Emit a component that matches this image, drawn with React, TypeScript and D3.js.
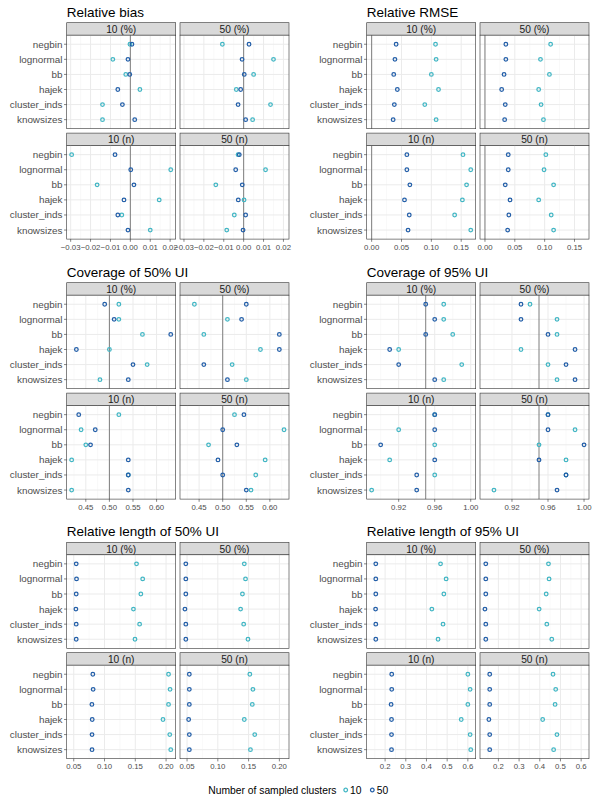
import * as d3 from "d3";

// categories
const methods = ["negbin", "lognormal", "bb", "hajek", "cluster_inds", "knowsizes"];
const facets = ["10 (%)", "50 (%)", "10 (n)", "50 (n)"];
const clusterLevels = ["10", "50"];
const clusterColors = ["#41b6c4", "#225ea8"];

// each array: one row per facet (10 (%), 50 (%), 10 (n), 50 (n)), values in methods order
const biasC10 = [
  [-0.0002, -0.0088, -0.0023, 0.0048, -0.014, -0.014],
  [-0.0107, 0.015, 0.005, -0.0037, 0.0135, 0.0045],
  [-0.0295, 0.0203, -0.0167, 0.0145, -0.0043, 0.01],
  [-0.0028, 0.011, -0.014, 0.0002, -0.0047, -0.0085],
];
const biasC50 = [
  [0.0008, -0.0012, -0.0003, -0.0063, -0.004, 0.0022],
  [0.0027, -0.0008, 0.0003, -0.0015, -0.0028, 0.001],
  [-0.0077, 0.0002, 0.0018, -0.0032, -0.0063, -0.0012],
  [-0.0022, -0.004, -0.0007, -0.0027, 0.001, -0.0003],
];
const rmseC10 = [
  [0.107, 0.108, 0.1, 0.112, 0.089, 0.108],
  [0.11, 0.093, 0.108, 0.09, 0.094, 0.098],
  [0.153, 0.166, 0.159, 0.152, 0.139, 0.166],
  [0.102, 0.099, 0.115, 0.09, 0.111, 0.115],
];
const rmseC50 = [
  [0.041, 0.039, 0.037, 0.043, 0.038, 0.036],
  [0.035, 0.035, 0.032, 0.028, 0.034, 0.033],
  [0.059, 0.059, 0.064, 0.055, 0.063, 0.061],
  [0.039, 0.039, 0.034, 0.042, 0.04, 0.038],
];
const cov50C10 = [
  [0.52, 0.52, 0.57, 0.5, 0.58, 0.48],
  [0.44, 0.51, 0.46, 0.58, 0.52, 0.55],
  [0.52, 0.44, 0.45, 0.42, 0.54, 0.42],
  [0.525, 0.63, 0.47, 0.59, 0.57, 0.56],
];
const cov50C50 = [
  [0.49, 0.51, 0.63, 0.43, 0.55, 0.54],
  [0.55, 0.54, 0.62, 0.62, 0.46, 0.51],
  [0.435, 0.47, 0.46, 0.54, 0.54, 0.54],
  [0.545, 0.5, 0.53, 0.49, 0.5, 0.55],
];
const cov95C10 = [
  [0.97, 0.97, 0.98, 0.92, 0.99, 0.97],
  [0.94, 0.97, 0.97, 0.93, 0.96, 0.97],
  [0.96, 0.92, 0.96, 0.91, 0.96, 0.89],
  [0.96, 0.99, 0.95, 0.98, 0.98, 0.9],
];
const cov95C50 = [
  [0.95, 0.96, 0.95, 0.91, 0.92, 0.96],
  [0.93, 0.93, 0.96, 0.99, 0.98, 0.99],
  [0.96, 0.96, 0.9, 0.96, 0.94, 0.94],
  [0.96, 0.96, 1.0, 0.95, 0.98, 0.97],
];
const len50C10 = [
  [0.152, 0.162, 0.159, 0.147, 0.157, 0.1495],
  [0.143, 0.145, 0.14, 0.137, 0.142, 0.149],
  [0.204, 0.2065, 0.204, 0.195, 0.206, 0.2076],
  [0.152, 0.157, 0.156, 0.143, 0.16, 0.153],
];
const len50C50 = [
  [0.054, 0.0545, 0.054, 0.0535, 0.054, 0.054],
  [0.048, 0.048, 0.048, 0.0466, 0.048, 0.048],
  [0.081, 0.0815, 0.0795, 0.08, 0.0797, 0.0797],
  [0.0537, 0.0537, 0.0537, 0.0526, 0.0537, 0.0537],
];
const len95C10 = [
  [0.468, 0.495, 0.484, 0.426, 0.48, 0.456],
  [0.442, 0.445, 0.431, 0.397, 0.434, 0.458],
  [0.6, 0.611, 0.6, 0.568, 0.611, 0.614],
  [0.464, 0.477, 0.474, 0.414, 0.483, 0.467],
];
const len95C50 = [
  [0.155, 0.155, 0.155, 0.154, 0.155, 0.155],
  [0.139, 0.139, 0.139, 0.135, 0.139, 0.139],
  [0.232, 0.232, 0.229, 0.231, 0.231, 0.231],
  [0.158, 0.158, 0.158, 0.154, 0.158, 0.158],
];

// axis breaks
const biasTicks = [-0.03, -0.02, -0.01, 0, 0.01, 0.02];
const rmseTicks = [0, 0.05, 0.1, 0.15];
const cov50Ticks = [0.45, 0.5, 0.55, 0.6];
const cov95Ticks = [0.92, 0.96, 1.0];
const len50Ticks = [0.05, 0.1, 0.15, 0.2];
const len95Ticks = [0.2, 0.3, 0.4, 0.5, 0.6];

const metrics = [
  { title: "Relative bias", c10: biasC10, c50: biasC50, ticks: biasTicks, digits: 2, ref: 0 },
  { title: "Relative RMSE", c10: rmseC10, c50: rmseC50, ticks: rmseTicks, digits: 2, ref: 0 },
  { title: "Coverage of 50% UI", c10: cov50C10, c50: cov50C50, ticks: cov50Ticks, digits: 2, ref: 0.5 },
  { title: "Coverage of 95% UI", c10: cov95C10, c50: cov95C50, ticks: cov95Ticks, digits: 2, ref: 0.95 },
  { title: "Relative length of 50% UI", c10: len50C10, c50: len50C50, ticks: len50Ticks, digits: 2, ref: null },
  { title: "Relative length of 95% UI", c10: len95C10, c50: len95C50, ticks: len95Ticks, digits: 1, ref: null },
];

const FONT = "'Liberation Sans', Arial, Helvetica, sans-serif";
const colLeft = [66.7, 366.7];
const rowTop = [22.7, 282.7, 542.3];
const facetW = 109;
const gapX = 4.3;
const stripH = 12.5;
const panelH = 93.5;
const gapY = 4.4;

function Block({ m, left, top }) {
  const all = [...m.c10.flat(), ...m.c50.flat()];
  if (m.ref !== null) all.push(m.ref);
  const [lo, hi] = d3.extent(all);
  const pad = (hi - lo) * 0.05;
  const x = d3.scaleLinear().domain([lo - pad, hi + pad]).range([0, facetW]);
  const y = d3.scalePoint().domain(methods).range([0, panelH]).padding(0.6);
  const fmt = d3.format(`.${m.digits}f`);
  const step = m.ticks[1] - m.ticks[0];
  const minor = [m.ticks[0] - step / 2, ...m.ticks.map((t) => t + step / 2)].filter(
    (v) => v >= x.domain()[0] && v <= x.domain()[1]
  );

  return (
    <g>
      <text x={left} y={top - 6} fontSize={13.5} fill="#000" fontFamily={FONT}>
        {m.title}
      </text>
      {facets.map((f, fi) => {
        const fx = left + (fi % 2) * (facetW + gapX);
        const sy = top + Math.floor(fi / 2) * (stripH + panelH + gapY);
        const py = sy + stripH;
        const isLeft = fi % 2 === 0;
        const isBottom = fi >= 2;
        return (
          <g key={f}>
            <rect x={fx} y={sy} width={facetW} height={stripH} fill="#d9d9d9" stroke="#333" strokeWidth={0.6} />
            <text
              x={fx + facetW / 2}
              y={sy + stripH / 2 + 0.5}
              textAnchor="middle"
              dominantBaseline="central"
              fontSize={10.2}
              fill="#1a1a1a"
              fontFamily={FONT}
            >
              {f}
            </text>
            <g transform={`translate(${fx},${py})`}>
              <rect width={facetW} height={panelH} fill="#fff" />
              {minor.map((v) => (
                <line key={"n" + v} x1={x(v)} x2={x(v)} y1={0} y2={panelH} stroke="#f2f2f2" strokeWidth={0.5} />
              ))}
              {m.ticks.map((v) => (
                <line key={"t" + v} x1={x(v)} x2={x(v)} y1={0} y2={panelH} stroke="#ebebeb" strokeWidth={1} />
              ))}
              {methods.map((me) => (
                <line key={me} x1={0} x2={facetW} y1={y(me)} y2={y(me)} stroke="#ebebeb" strokeWidth={1} />
              ))}
              {m.ref !== null && (
                <line x1={x(m.ref)} x2={x(m.ref)} y1={0} y2={panelH} stroke="#7f7f7f" strokeWidth={1} />
              )}
              {[m.c10, m.c50].map((series, si) =>
                series[fi].map((v, mi) => (
                  <circle
                    key={si + "-" + mi}
                    cx={x(v)}
                    cy={y(methods[mi])}
                    r={1.8}
                    fill="none"
                    stroke={clusterColors[si]}
                    strokeWidth={1.25}
                  />
                ))
              )}
              <rect width={facetW} height={panelH} fill="none" stroke="#333" strokeWidth={0.6} />
              {isLeft &&
                methods.map((me) => (
                  <g key={"yl" + me}>
                    <line x1={-2.7} x2={0} y1={y(me)} y2={y(me)} stroke="#333" strokeWidth={0.6} />
                    <text
                      x={-4.2}
                      y={y(me)}
                      textAnchor="end"
                      dominantBaseline="central"
                      fontSize={9.9}
                      fill="#4d4d4d"
                      fontFamily={FONT}
                    >
                      {me}
                    </text>
                  </g>
                ))}
              {isBottom &&
                m.ticks.map((v) => (
                  <g key={"xl" + v}>
                    <line x1={x(v)} x2={x(v)} y1={panelH} y2={panelH + 2.7} stroke="#333" strokeWidth={0.6} />
                    <text
                      x={x(v)}
                      y={panelH + 10.8}
                      textAnchor="middle"
                      fontSize={7.8}
                      fill="#4d4d4d"
                      fontFamily={FONT}
                    >
                      {fmt(v)}
                    </text>
                  </g>
                ))}
            </g>
          </g>
        );
      })}
    </g>
  );
}

export default function App() {
  return (
    <svg
      width={600}
      height={800}
      style={{ position: "absolute", left: 0, top: 0, background: "#fff" }}
    >
      {metrics.map((m, i) => (
        <Block key={m.title} m={m} left={colLeft[i % 2]} top={rowTop[Math.floor(i / 2)]} />
      ))}
      <g fontFamily={FONT} fontSize={10.3} fill="#000">
        <text x={208.3} y={793.6}>Number of sampled clusters</text>
        {clusterLevels.map((lv, i) => (
          <g key={lv} transform={`translate(${345.7 + i * 26.6},790)`}>
            <circle r={1.8} fill="none" stroke={clusterColors[i]} strokeWidth={1.25} />
            <text x={4.4} y={3.6}>
              {lv}
            </text>
          </g>
        ))}
      </g>
    </svg>
  );
}
